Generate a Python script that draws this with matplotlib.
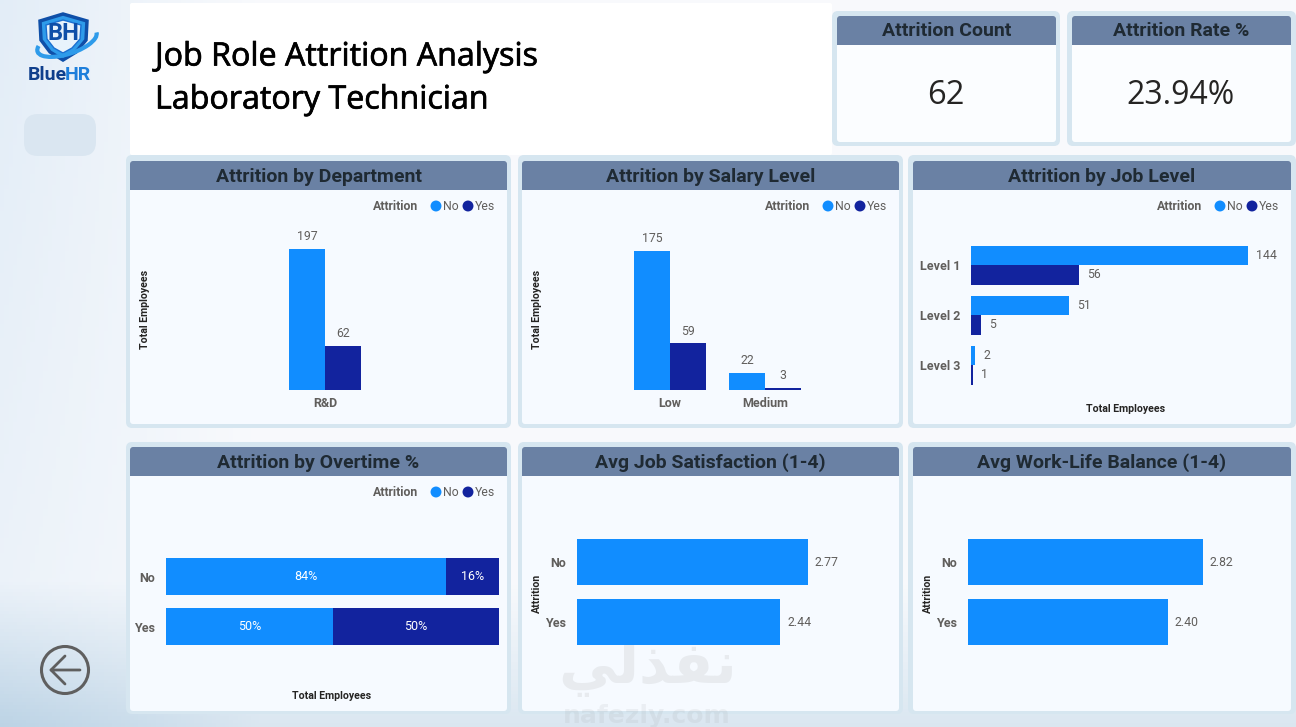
#!/usr/bin/env python3
"""
Job Role Attrition dashboard
"""

import matplotlib
matplotlib.use('Agg')
import matplotlib.pyplot as plt
import matplotlib.patheffects as pe
from matplotlib.patches import Arc, Circle, FancyBboxPatch, Polygon, Rectangle
import numpy as np

W, H = 1296, 727

# Data
TITLE_LINES = ['Job Role Attrition Analysis', 'Laboratory Technician']
ATTRITION_COUNT = '62'
ATTRITION_RATE = '23.94%'

DEPT_CATS = ['R&D']
DEPT_NO = [197]
DEPT_YES = [62]

SALARY_CATS = ['Low', 'Medium']
SALARY_NO = [175, 22]
SALARY_YES = [59, 3]

LEVEL_CATS = ['Level 1', 'Level 2', 'Level 3']
LEVEL_NO = [144, 51, 2]
LEVEL_YES = [56, 5, 1]

OT_CATS = ['No', 'Yes']
OT_NO = [84, 50]
OT_YES = [16, 50]

SAT_CATS = ['No', 'Yes']
SAT_VALUES = [2.77, 2.44]

WLB_CATS = ['No', 'Yes']
WLB_VALUES = [2.82, 2.40]

# Styles
BLUE = '#118DFF'
NAVY = '#12239E'
HEADER = '#6A81A4'
BORDER = '#D6E6F0'
BODY = '#F6FAFF'
TITLE_COL = '#1F2A33'
GREY = '#605E5C'
HEAD_FONT = ['Roboto', 'DejaVu Sans']
MAIN_FONT = ['Open Sans', 'DejaVu Sans']

plt.rcParams['font.family'] = HEAD_FONT

fig = plt.figure(figsize=(W / 100, H / 100), dpi=100)


def pixel_axes(x0, y0, x1, y1):
    """Axes placed by picture pixels (y counted from the top)"""
    ax = fig.add_axes([x0 / W, 1 - y1 / H, (x1 - x0) / W, (y1 - y0) / H])
    ax.patch.set_alpha(0)
    for side in ax.spines.values():
        side.set_visible(False)
    ax.tick_params(length=0)
    return ax


# Page background
bg = pixel_axes(0, 0, W, H)
yy, xx = np.mgrid[0:1:200j, 0:1:300j]
left = np.clip(1 - xx * 5, 0, 1)
low = np.clip((yy - 0.80) / 0.20, 0, 1)
img = np.zeros(yy.shape + (3,))
for i, (top_c, side_c, low_c) in enumerate(zip((0.975, 0.98, 0.99), (0.89, 0.93, 0.97), (0.74, 0.83, 0.90))):
    img[..., i] = top_c + (side_c - top_c) * left * (1 - 0.5 * yy)
    img[..., i] += (low_c - img[..., i]) * low * (0.5 + 0.5 * left)
bg.imshow(img, extent=(0, W, H, 0), aspect='auto', zorder=0)
bg.set_xlim(0, W)
bg.set_ylim(H, 0)
bg.axis('off')


def card(x0, y0, x1, y1, color, edge='none', lw=0, rad=4, z=1):
    bg.add_patch(FancyBboxPatch((x0 + rad, y0 + rad), x1 - x0 - 2 * rad, y1 - y0 - 2 * rad,
                                boxstyle=f'round,pad={rad},rounding_size={rad}',
                                facecolor=color, edgecolor=edge, linewidth=lw, zorder=z))


def panel(outer, header, body_bottom, title, body=BODY):
    """Rounded border, white-blue body and slate header strip"""
    card(outer[0], outer[1], outer[2], outer[3], BORDER, rad=6, z=1)
    card(header[0], header[1], header[2], body_bottom, body, rad=3, z=2)
    bg.add_patch(Rectangle((header[0], header[1] + 3), header[2] - header[0], header[3] - header[1] - 3,
                           facecolor=HEADER, zorder=3))
    card(header[0], header[1], header[2], header[1] + 8, HEADER, rad=3, z=3)
    bg.text((header[0] + header[2]) / 2, (header[1] + header[3]) / 2 + 1, title, ha='center', va='center',
            fontsize=14, fontweight='bold', color=TITLE_COL, zorder=4)


def legend(dx, y):
    bg.text(373 + dx, y, 'Attrition', fontsize=8.8, fontweight='bold', color=GREY, va='center', zorder=5)
    bg.scatter([436 + dx, 468 + dx], [y - 1, y - 1], s=62, c=[BLUE, NAVY], linewidths=0, zorder=5)
    bg.text(443 + dx, y, 'No', fontsize=8.8, color=GREY, va='center', zorder=5)
    bg.text(475 + dx, y, 'Yes', fontsize=8.8, color=GREY, va='center', zorder=5)


# Logo and soft blob on the left strip
card(24, 114, 96, 156, '#DAE6F1', rad=14, z=1)
bg.add_patch(Polygon([(40, 21), (63, 14), (87, 21), (86, 40), (76, 52), (63, 60), (50, 52), (41, 40)],
                     closed=True, facecolor='#2E9BEA', edgecolor='#0F4FA8', linewidth=2.5, zorder=2))
bg.add_patch(Polygon([(46, 25), (63, 20), (81, 25), (80, 39), (72, 48), (63, 53), (54, 48), (47, 39)],
                     closed=True, facecolor='#E8F3FC', edgecolor='#1B6FD0', linewidth=1, zorder=2))
bg.add_patch(Arc((67, 42), 62, 24, angle=-18, theta1=0, theta2=190, color='#2E9BEA', linewidth=3, zorder=3))
bg.text(63, 33, 'BH', ha='center', va='center', fontsize=17, fontweight='bold', color='#0F4FA8', zorder=4)
bg.text(28, 75, 'Blue', ha='left', va='center', fontsize=14, fontweight='bold', color='#0F3F8C', zorder=3)
bg.text(65, 75, 'HR', ha='left', va='center', fontsize=14, fontweight='bold', color='#1E7FDB', zorder=3)

# Back arrow button
bg.add_patch(Circle((65, 670), 23.5, facecolor='none', edgecolor='#5F5F5F', linewidth=2.2, zorder=3))
bg.plot([80, 51, 65], [670, 670, 684], color='#5F5F5F', linewidth=2, zorder=3, solid_capstyle='round')
bg.plot([51, 65], [670, 656], color='#5F5F5F', linewidth=2, zorder=3, solid_capstyle='round')

# Title card
card(130, 3, 832, 155, 'white', rad=2)
stroke = [pe.withStroke(linewidth=0.5, foreground='black')]
bg.text(155, 57, TITLE_LINES[0], fontsize=23.2, color='black', va='center', family=MAIN_FONT,
        path_effects=stroke, zorder=4)
bg.text(155, 100, TITLE_LINES[1], fontsize=23.2, color='black', va='center', family=MAIN_FONT,
        path_effects=stroke, zorder=4)

# KPI cards
panel((832, 11, 1060, 146), (837, 16, 1056, 45), 142, 'Attrition Count', body='#FBFDFF')
panel((1067, 11, 1296, 146), (1072, 16, 1291, 45), 142, 'Attrition Rate %', body='#FBFDFF')
bg.text(946, 95, ATTRITION_COUNT, ha='center', va='center', fontsize=23.5, color='#252423', family=MAIN_FONT, zorder=4)
bg.text(1181, 95, ATTRITION_RATE, ha='center', va='center', fontsize=23, color='#252423', family=MAIN_FONT, zorder=4)

# Chart panels
panel((126, 155, 511, 428), (130, 161, 507, 190), 424, 'Attrition by Department')
panel((518, 155, 903, 428), (522, 161, 899, 190), 424, 'Attrition by Salary Level')
panel((908, 155, 1296, 428), (913, 161, 1291, 190), 424, 'Attrition by Job Level')
panel((126, 442, 511, 714), (130, 447, 507, 476), 711, 'Attrition by Overtime %')
panel((518, 442, 903, 714), (522, 447, 899, 476), 711, 'Avg Job Satisfaction (1-4)')
panel((908, 442, 1296, 714), (913, 447, 1291, 476), 711, 'Avg Work-Life Balance (1-4)')
legend(0, 207)
legend(392, 207)
legend(784, 207)
legend(0, 493)

# Faint watermark
bg.text(648, 668, '\ufef2\ufedf\ufeac\ufed4\ufee7', ha='center', va='center', fontsize=42, fontweight='bold',
        color='#8A8A8A', alpha=0.13, family='DejaVu Sans', zorder=5)
bg.text(647, 716, 'nafezly.com', ha='center', va='center', fontsize=18, fontweight='bold',
        color='#8A8A8A', alpha=0.10, family='DejaVu Sans', zorder=5)

LABEL = dict(fontsize=8.8, color=GREY)
TICK = dict(fontsize=9, color=GREY, fontweight='bold')
TITLE = dict(fontsize=7.6, color='#252423', fontweight='bold')


def column_chart(box, cats, no, yes, ymax, width):
    ax = pixel_axes(*box)
    x = np.arange(len(cats))
    b1 = ax.bar(x - width / 2, no, width, color=BLUE)
    b2 = ax.bar(x + width / 2, yes, width, color=NAVY)
    ax.bar_label(b1, padding=4, **LABEL)
    ax.bar_label(b2, padding=4, **LABEL)
    ax.set_xlim(-0.5, len(cats) - 0.5)
    ax.set_ylim(0, ymax)
    ax.set_xticks(x, cats, **TICK)
    ax.set_yticks([])
    ax.tick_params(axis='x', pad=5)
    return ax


def side_labels(ax, cats):
    ax.set_yticks(np.arange(len(cats)), cats, **TICK)
    ax.set_ylim(len(cats) - 0.5, -0.5)
    ax.set_xticks([])
    ax.tick_params(axis='y', pad=8)


# Attrition by Department
column_chart((145, 249, 505, 390), DEPT_CATS, DEPT_NO, DEPT_YES, 197, 0.1)
bg.text(144.5, 309, 'Total Employees', rotation=90, ha='center', va='center', zorder=5, **TITLE)

# Attrition by Salary Level
column_chart((622.5, 251, 812.5, 390), SALARY_CATS, SALARY_NO, SALARY_YES, 175, 0.379)
bg.text(537.5, 309, 'Total Employees', rotation=90, ha='center', va='center', zorder=5, **TITLE)

# Attrition by Job Level
ax = pixel_axes(971, 240, 1248, 390)
pos = np.arange(len(LEVEL_CATS))
b1 = ax.barh(pos - 0.195, LEVEL_NO, 0.39, color=BLUE)
b2 = ax.barh(pos + 0.195, LEVEL_YES, 0.39, color=NAVY)
ax.bar_label(b1, padding=6, **LABEL)
ax.bar_label(b2, padding=6, **LABEL)
ax.set_xlim(0, 144)
side_labels(ax, LEVEL_CATS)
bg.text(1126, 409, 'Total Employees', ha='center', va='center', zorder=5, **TITLE)

# Attrition by Overtime %
ax = pixel_axes(166.5, 551.5, 499, 651.5)
pos = np.arange(len(OT_CATS))
b1 = ax.barh(pos, OT_NO, 0.74, color=BLUE)
b2 = ax.barh(pos, OT_YES, 0.74, left=OT_NO, color=NAVY)
ax.bar_label(b1, labels=[f'{v}%' for v in OT_NO], label_type='center', fontsize=9, color='white')
ax.bar_label(b2, labels=[f'{v}%' for v in OT_YES], label_type='center', fontsize=9, color='white')
ax.set_xlim(0, 100)
side_labels(ax, OT_CATS)
bg.text(332, 696, 'Total Employees', ha='center', va='center', zorder=5, **TITLE)

# Avg Job Satisfaction
ax = pixel_axes(577, 532, 827, 652)
bars = ax.barh(np.arange(len(SAT_CATS)), SAT_VALUES, 0.76, color=BLUE)
ax.bar_label(bars, fmt='%.2f', padding=5, **LABEL)
ax.set_xlim(0, 3)
side_labels(ax, SAT_CATS)
bg.text(537, 593, 'Attrition', rotation=90, ha='center', va='center', zorder=5, **TITLE)

# Avg Work-Life Balance
ax = pixel_axes(968, 532, 1218, 652)
bars = ax.barh(np.arange(len(WLB_CATS)), WLB_VALUES, 0.76, color=BLUE)
ax.bar_label(bars, fmt='%.2f', padding=5, **LABEL)
ax.set_xlim(0, 3)
side_labels(ax, WLB_CATS)
bg.text(928, 593, 'Attrition', rotation=90, ha='center', va='center', zorder=5, **TITLE)

fig.savefig('out.png', dpi=100)
plt.close(fig)
